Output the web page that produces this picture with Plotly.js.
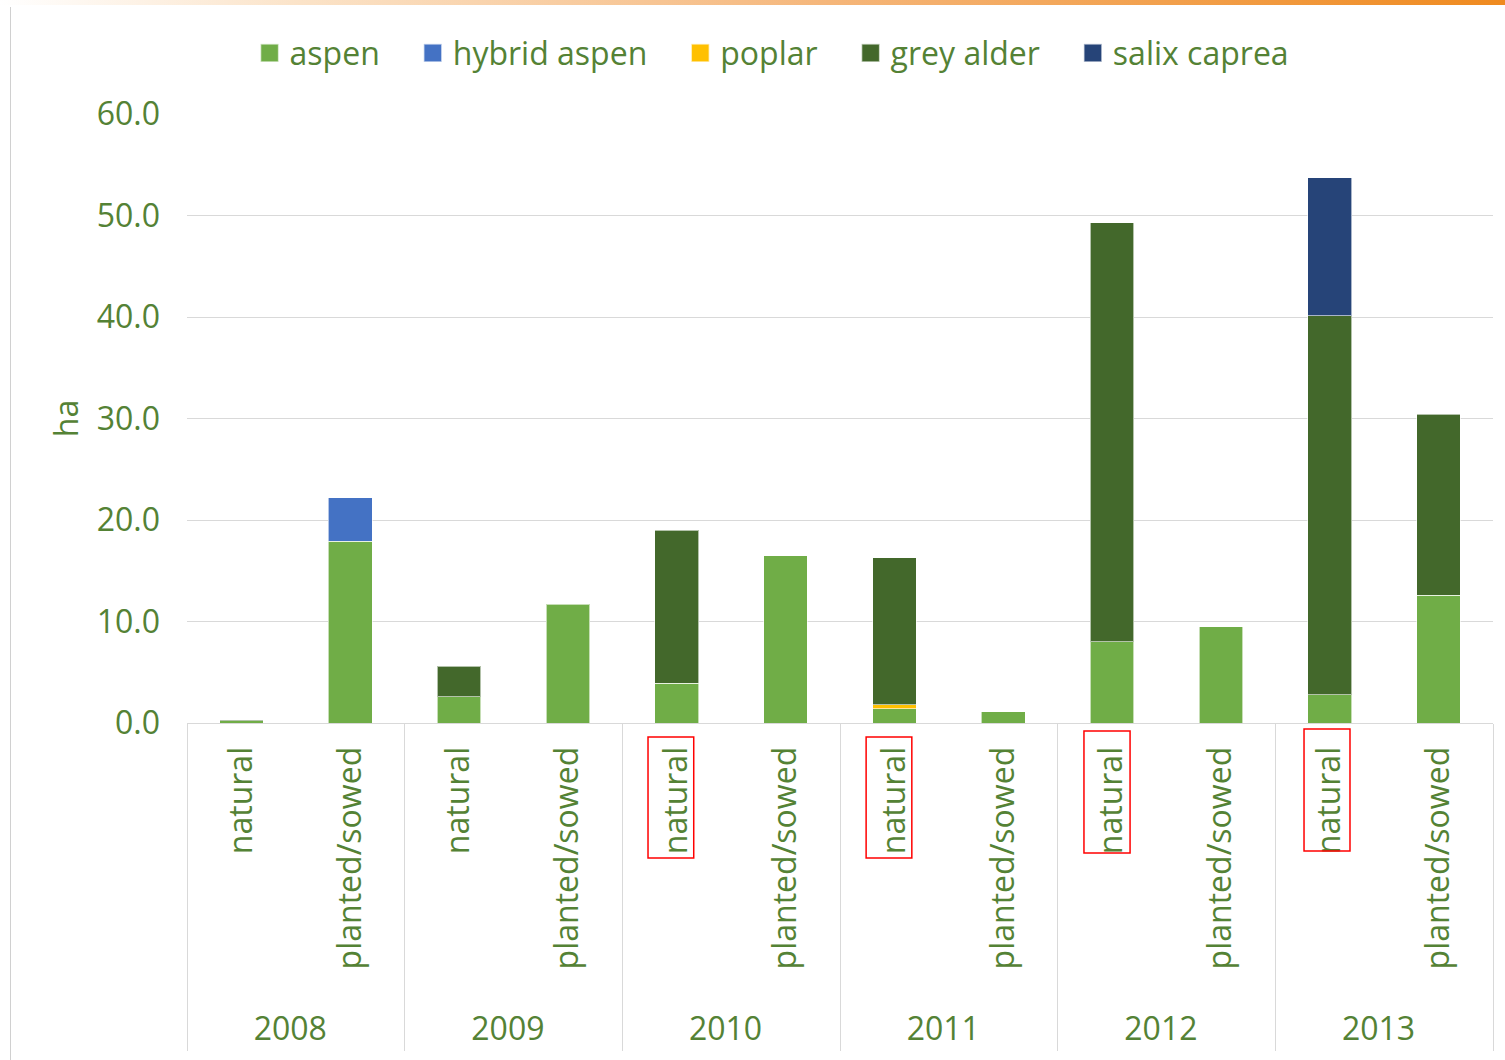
<!DOCTYPE html>
<html><head><meta charset="utf-8">
<script src="https://cdn.plot.ly/plotly-3.0.1.min.js"></script>
<style>
html,body{margin:0;padding:0;background:#fff;}
#chart{position:absolute;left:0;top:0;width:1505px;height:1060px;}
#topbar{position:absolute;left:0;top:0;width:1505px;height:5px;background:linear-gradient(to right,#ffffff 0%,#fbe3c8 20%,#f5b67a 55%,#ef8a1f 100%);z-index:5;}
#leftline{position:absolute;left:10px;top:7px;width:1px;height:1053px;background:#d0d0d0;z-index:5;}
</style></head>
<body>
<div id="chart"></div>
<div id="topbar"></div><div id="leftline"></div>
<script>
const years = ['2008','2008','2009','2009','2010','2010','2011','2011','2012','2012','2013','2013'];
const types = ['natural','planted/sowed','natural','planted/sowed','natural','planted/sowed','natural','planted/sowed','natural','planted/sowed','natural','planted/sowed'];
const aspen       = [0.2, 17.9, 2.6, 11.7, 3.9, 16.5, 1.4, 1.1, 8.0, 9.5, 2.8, 12.6];
const hybridAspen = [null, 4.3, null, null, null, null, null, null, null, null, null, null];
const poplar      = [null, null, null, null, null, null, 0.4, null, null, null, null, null];
const greyAlder   = [0.1, null, 3.0, null, 15.1, null, 14.5, null, 41.3, null, 37.3, 17.8];
const salixCaprea = [null, null, null, null, null, null, null, null, null, null, 13.6, null];

const seriesNames = ['aspen','hybrid aspen','poplar','grey alder','salix caprea'];
const seriesData = [aspen, hybridAspen, poplar, greyAlder, salixCaprea];
const seriesColors = ['#70AD47','#4472C4','#FFC000','#43682B','#264478'];

const textColor = '#548235';
const fontFam = '"Open Sans", "Noto Sans", sans-serif';
const fs = 32;

const traces = seriesNames.map((n,i)=>({
  type:'bar', name:n, x:[years, types], y:seriesData[i],
  marker:{color:seriesColors[i], line:{color:'rgba(255,255,255,0.6)', width:1}},
  hoverinfo:'y+name'
}));

function box(x0,x1,y0,y1){return {type:'rect',xref:'paper',yref:'paper',x0:x0,x1:x1,y0:y0,y1:y1,line:{color:'#ff0000',width:1.5},fillcolor:'rgba(0,0,0,0)'};}

const layout = {
  width:1505, height:1060,
  margin:{l:187, r:12, t:114, b:337, autoexpand:false},
  paper_bgcolor:'#fff', plot_bgcolor:'#fff',
  font:{family:fontFam, size:fs, color:textColor},
  barmode:'stack', bargap:0.6,
  showlegend:true,
  legend:{orientation:'h', x:0.448, xanchor:'center', y:1.1, yanchor:'middle', font:{size:fs, color:textColor}, itemclick:false, traceorder:'normal'},
  xaxis:{type:'multicategory', tickangle:-90, showline:true, linecolor:'#d9d9d9', linewidth:1,
         showdividers:true, dividercolor:'#d9d9d9', dividerwidth:1, ticks:'', ticklabelstandoff:10,
         tickfont:{size:fs, color:textColor}},
  yaxis:{range:[0,60], dtick:10, tickformat:'.1f', gridcolor:'#d9d9d9', gridwidth:1, zeroline:false,
         ticks:'', ticklabelstandoff:26, tickfont:{size:fs, color:textColor},
         title:{text:'ha', font:{size:fs, color:textColor}, standoff:8}},
  shapes:[
    box(0.353,0.388,-0.023,-0.2217),
    box(0.520,0.555,-0.023,-0.2217),
    box(0.6868,0.7221,-0.0131,-0.2135),
    box(0.8553,0.8905,-0.00985,-0.2102)
  ]
};
Plotly.newPlot('chart', traces, layout, {displayModeBar:false}).then(gd=>{
  // remove legend clipping so entries can be spread
  gd.querySelectorAll('.legend .scrollbox').forEach(s=>s.removeAttribute('clip-path'));
  // enlarge legend swatches
  gd.querySelectorAll('.legend .legendpoints path').forEach(p=>{
    const t = p.getAttribute('transform') || '';
    p.setAttribute('transform', t + ' scale(1.5)');
  });
  // wider spacing between legend entries
  const items = gd.querySelectorAll('.legend .traces');
  const extra = 28;
  items.forEach((g,i)=>{
    const t = g.getAttribute('transform') || 'translate(0,0)';
    const m = t.match(/translate\(\s*(-?[\d.]+)[ ,]+(-?[\d.]+)\s*\)/);
    const x0 = m ? parseFloat(m[1]) : 0, y0 = m ? parseFloat(m[2]) : 0;
    const dx = i*extra - (items.length-1)*extra/2;
    g.setAttribute('transform', 'translate(' + (x0+dx) + ',' + y0 + ')');
  });
  // push year labels and dividers down
  gd.querySelectorAll('.xtick2').forEach(g=>{ g.style.transform = 'translate(0px,21px)'; });
  gd.querySelectorAll('path.xdivider').forEach(p=>{
    const d = p.getAttribute('d');
    p.setAttribute('d', d.replace(/v(-?[\d.]+)/, (m,n)=>'v' + (parseFloat(n) + 23)));
  });
});
</script>
</body></html>
